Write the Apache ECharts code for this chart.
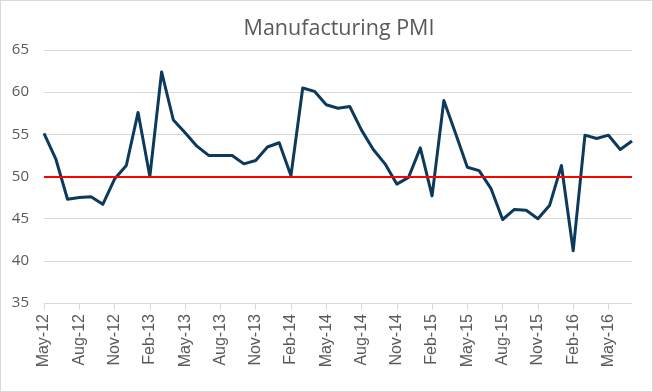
<!DOCTYPE html>
<html>
<head>
<meta charset="utf-8">
<script src="https://cdn.jsdelivr.net/npm/echarts@6/dist/echarts.min.js"></script>
<style>
html,body{margin:0;padding:0;background:#fff;}
#wrap{position:absolute;left:0;top:0;width:651px;height:390px;border:1px solid #d9d9d9;}
#chart{width:651px;height:390px;}
</style>
</head>
<body>
<div id="wrap"><div id="chart"></div></div>
<script>
const categories = [
  'May-12','Jun-12','Jul-12','Aug-12','Sep-12','Oct-12','Nov-12','Dec-12',
  'Jan-13','Feb-13','Mar-13','Apr-13','May-13','Jun-13','Jul-13','Aug-13','Sep-13','Oct-13','Nov-13','Dec-13',
  'Jan-14','Feb-14','Mar-14','Apr-14','May-14','Jun-14','Jul-14','Aug-14','Sep-14','Oct-14','Nov-14','Dec-14',
  'Jan-15','Feb-15','Mar-15','Apr-15','May-15','Jun-15','Jul-15','Aug-15','Sep-15','Oct-15','Nov-15','Dec-15',
  'Jan-16','Feb-16','Mar-16','Apr-16','May-16','Jun-16','Jul-16'
];
const pmiValues = [
  55.1, 52.1, 47.3, 47.5, 47.6, 46.7, 49.7, 51.3,
  57.6, 50.0, 62.4, 56.7, 55.2, 53.6, 52.5, 52.5, 52.5, 51.5, 51.9, 53.5,
  54.0, 50.1, 60.5, 60.1, 58.5, 58.1, 58.3, 55.5, 53.2, 51.5, 49.1, 49.9,
  53.4, 47.7, 59.0, 55.1, 51.1, 50.7, 48.6, 44.9, 46.1, 46.0, 45.0, 46.6,
  51.3, 41.2, 54.9, 54.5, 54.9, 53.2, 54.2
];
const thresholdValue = 50;
const yTicks = { min: 35, max: 65, interval: 5 };
const titleText = 'Manufacturing PMI';

const chart = echarts.init(document.getElementById('chart'), null, {renderer: 'canvas'});
chart.setOption({
  animation: false,
  title: {
    text: titleText,
    left: 333, top: 12, textAlign: 'center',
    textStyle: { fontFamily: 'Open Sans', fontWeight: 'normal', fontSize: 21.5, color: '#595959' }
  },
  grid: { left: 43, right: 20, top: 49, bottom: 88, containLabel: false },
  xAxis: {
    type: 'category',
    data: categories,
    boundaryGap: false,
    axisLine: { show: true, lineStyle: { color: '#d9d9d9', width: 1 } },
    axisTick: { show: true, interval: 2, length: 7, lineStyle: { color: '#d9d9d9' } },
    axisLabel: {
      interval: 2, rotate: 90, margin: 11,
      fontFamily: 'Liberation Sans', fontSize: 16, color: '#595959'
    },
    splitLine: { show: false }
  },
  yAxis: {
    type: 'value',
    min: yTicks.min, max: yTicks.max, interval: yTicks.interval,
    axisLine: { show: false },
    axisTick: { show: false },
    axisLabel: { margin: 15, fontFamily: 'Open Sans', fontSize: 15, color: '#595959' },
    splitLine: { show: true, lineStyle: { color: '#d9d9d9', width: 1 } }
  },
  series: [{
    type: 'line',
    data: pmiValues,
    symbol: 'none',
    lineStyle: { color: '#0c3a5c', width: 3, join: 'round' },
    z: 3,
    markLine: {
      silent: true, symbol: 'none',
      label: { show: false },
      lineStyle: { color: '#ff0000', width: 2, type: 'solid' },
      data: [{ yAxis: thresholdValue }],
      z: 4
    }
  }]
});
</script>
</body>
</html>
